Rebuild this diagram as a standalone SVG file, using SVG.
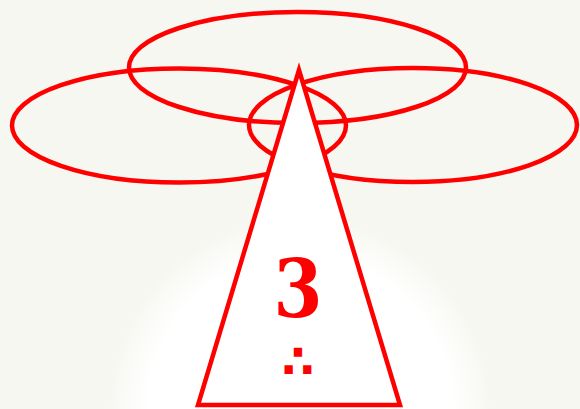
<svg xmlns="http://www.w3.org/2000/svg" width="580" height="409" viewBox="0 0 580 409">
  <defs>
    <radialGradient id="glow" cx="300" cy="409" r="190" gradientUnits="userSpaceOnUse">
      <stop offset="0" stop-color="#ffffff"/>
      <stop offset="0.8" stop-color="#ffffff"/>
      <stop offset="1" stop-color="#f7f7f2"/>
    </radialGradient>
    <style>
      .ring { fill: none; stroke: #ff0000; stroke-width: 4.5; }
      .tri { fill: #ffffff; stroke: #ff0000; stroke-width: 4.5; stroke-linejoin: miter; }
      .num { font-family: "DejaVu Serif", "Liberation Serif", serif; font-weight: bold; fill: #ff0000; text-anchor: middle; }
      .sym { font-family: "DejaVu Sans", sans-serif; font-weight: bold; fill: #ff0000; text-anchor: middle; }
    </style>
  </defs>
  <rect width="580" height="409" fill="#f7f7f2"/>
  <rect width="580" height="409" fill="url(#glow)"/>
  <g id="rings">
    <ellipse id="ring-top" class="ring" cx="297.5" cy="67.5" rx="168.5" ry="55.5"/>
    <ellipse id="ring-left" class="ring" cx="179" cy="125.5" rx="167" ry="57"/>
    <ellipse id="ring-right" class="ring" cx="413" cy="125" rx="164" ry="57"/>
  </g>
  <g id="triangle">
    <polygon class="tri" points="299,70 198,405 400,405"/>
    <text class="num" transform="translate(298,317) scale(0.88,1)" font-size="80">3</text>
    <text class="sym" x="298" y="378" font-size="47">∴</text>
  </g>
</svg>
